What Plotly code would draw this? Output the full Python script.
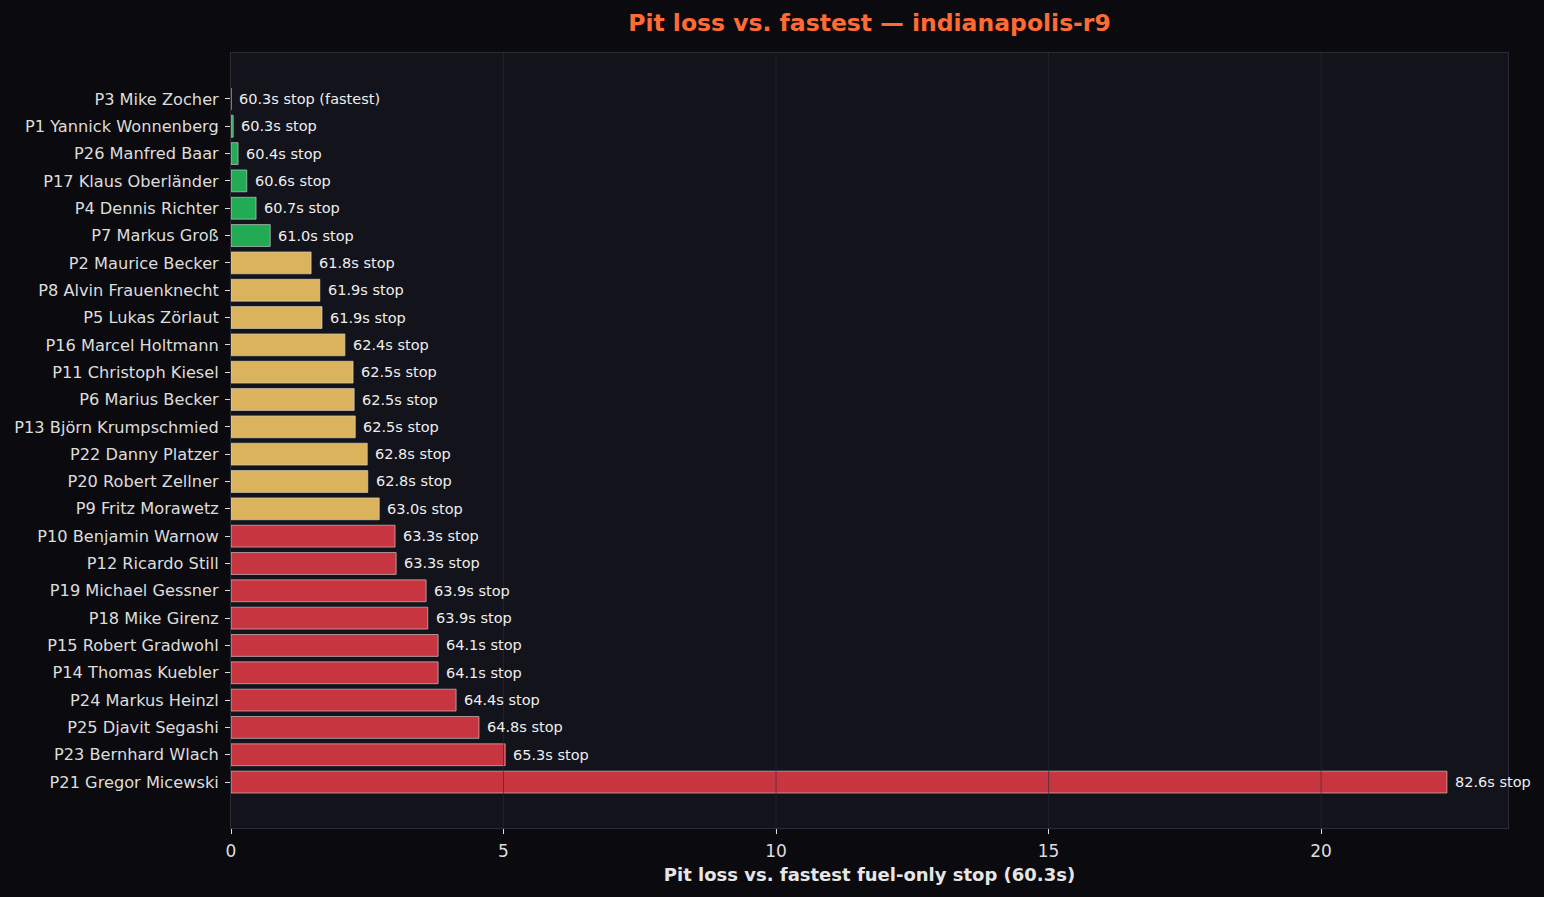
import plotly.graph_objects as go

drivers = [
    "P3 Mike Zocher", "P1 Yannick Wonnenberg", "P26 Manfred Baar", "P17 Klaus Oberländer",
    "P4 Dennis Richter", "P7 Markus Groß", "P2 Maurice Becker", "P8 Alvin Frauenknecht",
    "P5 Lukas Zörlaut", "P16 Marcel Holtmann", "P11 Christoph Kiesel", "P6 Marius Becker",
    "P13 Björn Krumpschmied", "P22 Danny Platzer", "P20 Robert Zellner", "P9 Fritz Morawetz",
    "P10 Benjamin Warnow", "P12 Ricardo Still", "P19 Michael Gessner", "P18 Mike Girenz",
    "P15 Robert Gradwohl", "P14 Thomas Kuebler", "P24 Markus Heinzl", "P25 Djavit Segashi",
    "P23 Bernhard Wlach", "P21 Gregor Micewski",
]
pit_loss = [
    0.0, 0.04, 0.13, 0.29, 0.46, 0.72, 1.47, 1.63, 1.67, 2.09, 2.24, 2.26, 2.28,
    2.50, 2.51, 2.72, 3.01, 3.03, 3.58, 3.61, 3.80, 3.80, 4.13, 4.55, 5.03, 22.31,
]
stop_times = [
    60.3, 60.3, 60.4, 60.6, 60.7, 61.0, 61.8, 61.9, 61.9, 62.4, 62.5, 62.5, 62.5,
    62.8, 62.8, 63.0, 63.3, 63.3, 63.9, 63.9, 64.1, 64.1, 64.4, 64.8, 65.3, 82.6,
]
fastest = 60.3
x_ticks = [0, 5, 10, 15, 20]

GREEN = "#22aa55"
YELLOW = "#dbb35c"
RED = "#c73540"

def colour(v):
    if v < 1.0:
        return GREEN
    if v < 3.0:
        return YELLOW
    return RED

colors = [colour(v) for v in pit_loss]
labels = [f"{s:.1f}s stop" for s in stop_times]
labels[0] = labels[0] + " (fastest)"

fig = go.Figure()
fig.add_trace(go.Bar(
    x=pit_loss, y=drivers, orientation="h",
    marker=dict(color=colors, line=dict(color="rgba(220,220,220,0.75)", width=0.8)),
    width=0.8, hoverinfo="skip", showlegend=False,
))

for d, v, t in zip(drivers, pit_loss, labels):
    fig.add_annotation(
        x=v, y=d, text=t, showarrow=False, xanchor="left", yanchor="middle",
        xshift=6, font=dict(family="DejaVu Sans", size=14.5, color="#eeeeee"),
    )

# grid lines drawn above the bars (as in the reference)
for t in x_ticks[1:]:
    fig.add_shape(type="line", xref="x", yref="paper", x0=t, x1=t, y0=0, y1=1,
                  line=dict(color="rgba(42,42,54,0.6)", width=1), layer="above")

fig.update_layout(
    width=1544, height=897,
    paper_bgcolor="#0b0b0f", plot_bgcolor="#12131b",
    margin=dict(l=231, r=36, t=53, b=69),
    font=dict(family="DejaVu Sans", color="#dddddd"),
    title=dict(
        text="<b>Pit loss vs. fastest — indianapolis-r9</b>",
        xref="paper", x=0.5, xanchor="center", y=1 - 23 / 897, yanchor="middle",
        font=dict(family="DejaVu Sans", size=23.5, color="#ff6b35"),
    ),
    bargap=0.2,
)
fig.update_xaxes(
    range=[0, 23.43], tickvals=x_ticks, ticktext=[str(t) for t in x_ticks],
    showgrid=False,
    zeroline=False, showline=True, linecolor="#2c2c36", linewidth=1, mirror=True,
    ticks="outside", ticklen=5, tickcolor="#dddddd", tickwidth=1,
    tickfont=dict(family="DejaVu Sans", size=17, color="#dddddd"),
    ticklabelstandoff=3,
    title=dict(text="<b>Pit loss vs. fastest fuel-only stop (60.3s)</b>",
               font=dict(family="DejaVu Sans", size=18, color="#e6e6e6"), standoff=7),
)
fig.update_yaxes(
    categoryorder="array", categoryarray=drivers,
    range=[len(drivers) - 1 + 1.68, -1.68],
    showgrid=False, zeroline=False, showline=True, linecolor="#2c2c36", linewidth=1, mirror=True,
    ticks="outside", ticklen=5, tickcolor="#dddddd", tickwidth=1,
    tickfont=dict(family="DejaVu Sans", size=16.2, color="#dddddd"),
    ticklabelstandoff=3,
)

fig.write_html(
    "out.html",
    config={"displayModeBar": False},
    post_script="document.body.style.margin='0';document.body.style.background='#0b0b0f';"
                "document.documentElement.style.overflow='hidden';",
)
